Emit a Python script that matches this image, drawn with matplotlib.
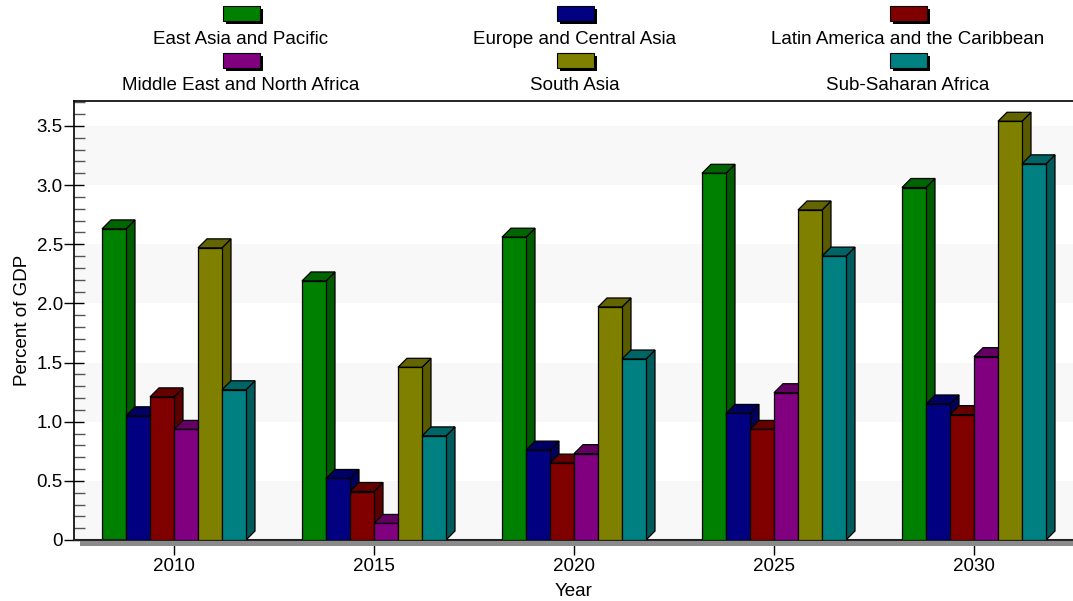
import matplotlib
matplotlib.use("Agg")
import matplotlib.pyplot as plt
from matplotlib.patches import Polygon, Rectangle
from matplotlib.ticker import MultipleLocator, FuncFormatter
import numpy as np

plt.rcParams['font.family'] = ['Liberation Sans', 'DejaVu Sans']

# === Data ===
years = ["2010", "2015", "2020", "2025", "2030"]
regions = ["East Asia and Pacific", "Europe and Central Asia",
           "Latin America and the Caribbean", "Middle East and North Africa",
           "South Asia", "Sub-Saharan Africa"]
east_asia = [2.63, 2.19, 2.56, 3.10, 2.98]
europe = [1.05, 0.52, 0.76, 1.07, 1.15]
latin_america = [1.21, 0.41, 0.65, 0.935, 1.06]
middle_east = [0.935, 0.14, 0.73, 1.245, 1.55]
south_asia = [2.47, 1.46, 1.97, 2.79, 3.54]
sub_saharan = [1.27, 0.88, 1.53, 2.40, 3.18]
series = [east_asia, europe, latin_america, middle_east, south_asia, sub_saharan]
colors = ["#008000", "#000080", "#800000", "#800080", "#808000", "#008080"]

W, H = 1073, 601
fig = plt.figure(figsize=(W / 100, H / 100), dpi=100)

# axes placed in pixels: left 74, bottom 540, top 101
ax_l, ax_b, ax_t, ax_w = 74, 540, 101, 1000
ax = fig.add_axes([ax_l / W, (H - ax_b) / H, ax_w / W, (ax_b - ax_t) / H])
ymax = 3.5 * (ax_b - ax_t) / (ax_b - 126)
ax.set_xlim(-0.5, len(years) - 0.5)
ax.set_ylim(0, ymax)

# background bands
for lo in np.arange(0, 3.5, 1.0):
    ax.axhspan(lo, lo + 0.5, color="#f8f8f8", zorder=0, lw=0)

# 3D bar geometry (depth in pixels -> data)
px_x = ax_w / len(years)
px_y = (ax_b - ax_t) / ymax
dx = 9 / px_x
dy = 9 / px_y
bw = 0.12


def shade(c, f):
    r, g, b = matplotlib.colors.to_rgb(c)
    return (r * f, g * f, b * f)


z = 2
for gi in range(len(years)):
    for si, vals in enumerate(series):
        h = vals[gi]
        x0 = gi - 3 * bw + si * bw
        x1 = x0 + bw
        c = colors[si]
        front = Polygon([(x0, 0), (x1, 0), (x1, h), (x0, h)], closed=True,
                        facecolor=c, edgecolor="black", lw=0.9, zorder=z)
        top = Polygon([(x0, h), (x1, h), (x1 + dx, h + dy), (x0 + dx, h + dy)],
                      closed=True, facecolor=shade(c, 0.78), edgecolor="black",
                      lw=0.9, zorder=z)
        side = Polygon([(x1, 0), (x1 + dx, dy), (x1 + dx, h + dy), (x1, h)],
                       closed=True, facecolor=shade(c, 0.7), edgecolor="black",
                       lw=0.9, zorder=z)
        ax.add_patch(side)
        ax.add_patch(top)
        ax.add_patch(front)
        z += 1

# axes styling
ax.spines['right'].set_visible(False)
ax.spines['top'].set_linewidth(1.2)
ax.spines['left'].set_linewidth(1.2)
ax.spines['bottom'].set_linewidth(1.5)
ax.spines['bottom'].set_color("#222222")
ax.set_xticks(range(len(years)))
ax.set_xticklabels(years)
ax.yaxis.set_major_locator(MultipleLocator(0.5))
ax.yaxis.set_minor_locator(MultipleLocator(0.1))
ax.yaxis.set_major_formatter(FuncFormatter(lambda v, p: "0" if v == 0 else f"{v:.1f}"))
ax.tick_params(axis='y', which='major', direction='inout', length=14, width=1,
               labelsize=13.5, pad=1)
ax.tick_params(axis='y', which='minor', direction='in', length=8, width=1,
               color="#555555")
ax.tick_params(axis='x', which='major', direction='out', length=11, width=1,
               labelsize=13.5, pad=2)
ax.set_ylabel("Percent of GDP", fontsize=13.5, labelpad=4)
ax.set_xlabel("Year", fontsize=13.5, labelpad=6)

# floor shadow
fig.patches.append(Rectangle((80 / W, (H - 546) / H), (W - 80) / W, 5 / H,
                             transform=fig.transFigure, facecolor="#8a8a8a",
                             edgecolor="none", zorder=1))

# legend drawn manually: patch above label
col_x = [241, 575, 908]
row_patch_y = [6, 53]
row_text_y = [40, 86]
for i, name in enumerate(regions):
    r, cidx = divmod(i, 3)
    cx = col_x[cidx]
    py = row_patch_y[r]
    pw, ph = 37, 15
    fig.patches.append(Rectangle(((cx - pw / 2 + 3) / W, (H - py - ph - 3) / H), pw / W, ph / H,
                                 transform=fig.transFigure, facecolor="black",
                                 edgecolor="none"))
    fig.patches.append(Rectangle(((cx - pw / 2) / W, (H - py - ph) / H), pw / W, ph / H,
                                 transform=fig.transFigure, facecolor=colors[i],
                                 edgecolor="black", lw=0.8))
    fig.text(cx / W, (H - row_text_y[r]) / H, name, ha="center", va="center",
             fontsize=13.5)

fig.savefig("out.png", dpi=100)
